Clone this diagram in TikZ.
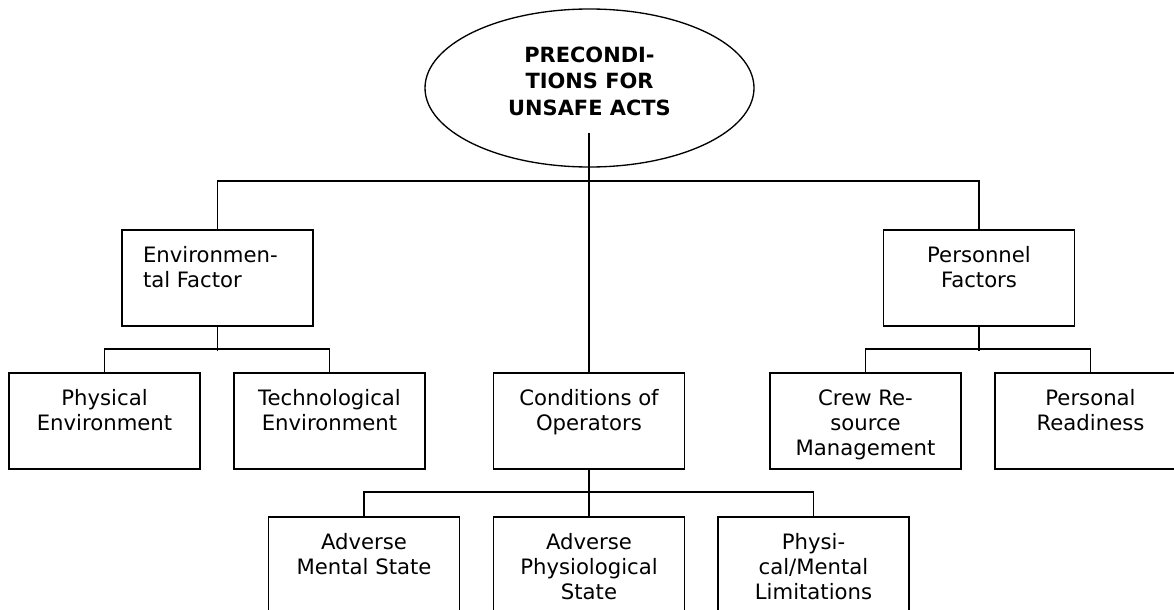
\documentclass[tikz,border=0pt]{standalone}
\usepackage{fontspec}
\setmainfont{DejaVu Sans}
\usetikzlibrary{shapes.geometric}

% text of a factor box: set at the top of a 191 x 96 box
\newcommand{\factortext}[2][\centering]{\parbox[c][72pt][t]{143.25pt}{#1\vspace*{11.6pt}\strut #2}}

\begin{document}
\begin{tikzpicture}[x=0.75pt,y=0.75pt,yscale=-1,xscale=1,
    title/.style={ellipse, draw, line width=1pt, inner sep=0pt, minimum width=246.75pt, minimum height=118.5pt},
    factor/.style={rectangle, draw, line width=1.45pt, inner sep=0pt, anchor=north, font=\fontsize{15.9pt}{18.75pt}\selectfont},
    link/.style={line width=1.45pt}]
\path[use as bounding box, clip] (0,0) rectangle (1174,610);

%Shape: Ellipse
    \node[title] (pre) at (589.5,88) {\parbox[c][75pt][c]{150pt}{\centering\bfseries\fontsize{15.7pt}{19.9pt}\selectfont PRECONDI-\\TIONS FOR\\UNSAFE ACTS\par\vspace*{10.5pt}}};
    \coordinate (stem) at (589,133);

%Shape: Rectangle
    \node[factor] (env) at (217.5,229) {\factortext[\raggedright\leftskip=15.75pt]{Environmen-\\tal Factor}};
    \node[factor] (pers) at (979,229) {\factortext{Personnel\\Factors}};
%Shape: Rectangle
    \node[factor] (phys) at (104.5,372) {\factortext{Physical\\Environment}};
    \node[factor] (tech) at (329.5,372) {\factortext{Technological\\Environment}};
    \node[factor] (cond) at (589,372) {\factortext{Conditions of\\Operators}};
    \node[factor] (crew) at (865.5,372) {\factortext{Crew Re-\\source\\Management}};
    \node[factor] (ready) at (1090.5,372) {\factortext{Personal\\Readiness}};
%Shape: Rectangle
    \node[factor] (mental) at (364,516) {\factortext{Adverse\\Mental State}};
    \node[factor] (physio) at (589,516) {\factortext{Adverse\\Physiological\\State}};
    \node[factor] (limit) at (813.5,516) {\factortext{Physi-\\cal/Mental\\Limitations}};

%Straight Lines
    \draw[link] (stem) -- (cond.north);
    \draw[link] (env.north) -- ++(0,-48) -| (pers.north);
%Straight Lines
    \draw[link] (env.south) -- ++(0,24);
    \draw[link] (phys.north) -- ++(0,-23) -| (tech.north);
    \draw[link] (pers.south) -- ++(0,24);
    \draw[link] (crew.north) -- ++(0,-23) -| (ready.north);
%Straight Lines
    \draw[link] (cond.south) -- (physio.north);
    \draw[link] (mental.north) -- ++(0,-24) -| (limit.north);

\end{tikzpicture}
\end{document}
